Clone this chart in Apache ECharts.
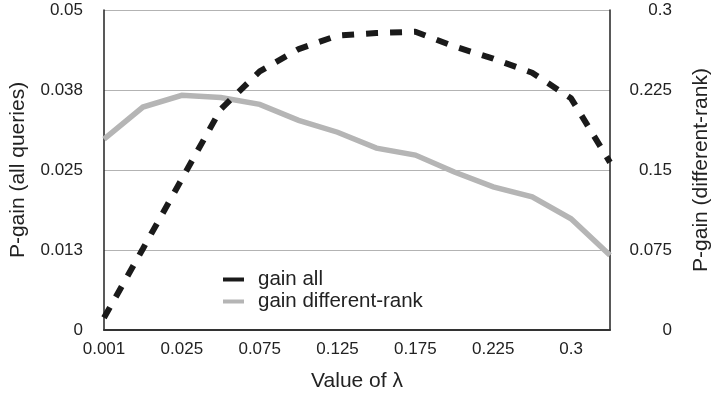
<!DOCTYPE html>
<html>
<head>
<meta charset="utf-8">
<script src="https://cdn.jsdelivr.net/npm/echarts@6/dist/echarts.min.js"></script>
<style>
html,body{margin:0;padding:0;background:#fff;}
#chart{width:720px;height:397px;}
</style>
</head>
<body>
<div id="chart"></div>
<script>
var categories = ['0.001','0.01','0.025','0.05','0.075','0.1','0.125','0.15','0.175','0.2','0.225','0.25','0.3','0.35'];
var gainAll = [0.0019, 0.0127, 0.0236, 0.0345, 0.0404, 0.0439, 0.0460, 0.0464, 0.0466, 0.0443, 0.0424, 0.0402, 0.0362, 0.0262];
var gainDifferentRank = [0.179, 0.209, 0.220, 0.218, 0.2115, 0.1966, 0.1854, 0.1705, 0.164, 0.1481, 0.1342, 0.1248, 0.1043, 0.070];
var leftTicks = ['0','0.013','0.025','0.038','0.05'];
var rightTicks = ['0','0.075','0.15','0.225','0.3'];

var FONT = "'Liberation Sans', Arial, Helvetica, sans-serif";
var chart = echarts.init(document.getElementById('chart'), null, {renderer:'canvas'});
chart.setOption({
  animation:false,
  backgroundColor:'#fff',
  textStyle:{fontFamily:FONT},
  grid:{left:103, right:105, top:10, bottom:65, containLabel:false},
  legend:{
    orient:'vertical', left:223, top:269, itemWidth:21, itemHeight:4, itemGap:1,
    icon:'rect', padding:0,
    textStyle:{fontFamily:FONT, fontSize:20.5, color:'#222', padding:[0,0,0,9]},
    data:[{name:'gain all', itemStyle:{color:'#1a1a1a'}},{name:'gain different-rank', itemStyle:{color:'#b5b5b5'}}]
  },
  xAxis:{
    type:'category', data:categories, boundaryGap:false,
    name:'Value of λ', nameLocation:'middle', nameGap:41,
    nameTextStyle:{fontFamily:FONT, fontSize:21, color:'#222'},
    axisLine:{lineStyle:{color:'#333', width:2}},
    axisTick:{show:false},
    axisLabel:{interval:1, fontFamily:FONT, fontSize:17, color:'#222', margin:11},
    splitLine:{show:false}
  },
  yAxis:[{
    type:'value', min:0, max:0.05, interval:0.0125, position:'left',
    name:'P-gain (all queries)', nameLocation:'middle', nameGap:75,
    nameTextStyle:{fontFamily:FONT, fontSize:21, color:'#222'},
    axisLine:{show:true, lineStyle:{color:'#222', width:1.5}},
    axisTick:{show:false},
    axisLabel:{fontFamily:FONT, fontSize:17, color:'#222', margin:21,
      formatter:function(v){ return leftTicks[Math.round(v/0.0125)]; }},
    splitLine:{show:true, lineStyle:{color:'#b3b3b3', width:1.2}}
  },{
    type:'value', min:0, max:0.3, interval:0.075, position:'right',
    name:'P-gain (different-rank)', nameLocation:'middle', nameGap:81,
    nameTextStyle:{fontFamily:FONT, fontSize:21, color:'#222'},
    axisLine:{show:true, lineStyle:{color:'#222', width:1.5}},
    axisTick:{show:false},
    axisLabel:{fontFamily:FONT, fontSize:17, color:'#222', margin:62, align:'right',
      formatter:function(v){ return rightTicks[Math.round(v/0.075)]; }},
    splitLine:{show:false}
  }],
  series:[{
    name:'gain different-rank', type:'line', yAxisIndex:1, data:gainDifferentRank,
    showSymbol:false, symbol:'none', z:2,
    lineStyle:{color:'#b5b5b5', width:5.5, cap:'butt', join:'miter'},
    itemStyle:{color:'#b5b5b5'}
  },{
    name:'gain all', type:'line', yAxisIndex:0, data:gainAll,
    showSymbol:false, symbol:'none', z:3,
    lineStyle:{color:'#1a1a1a', width:6, type:[12,12], cap:'butt'},
    itemStyle:{color:'#1a1a1a'}
  }]
});
</script>
</body>
</html>
